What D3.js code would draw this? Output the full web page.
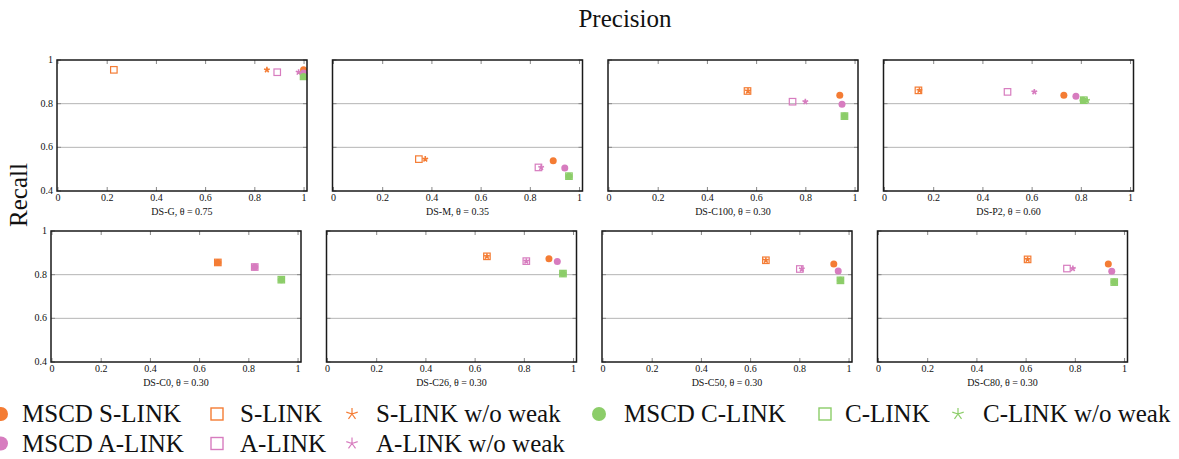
<!DOCTYPE html>
<html lang="en">
<head>
    <meta charset="UTF-8"/>
    <title>Precision / Recall</title>
    <script src="https://d3js.org/d3.v7.min.js"></script>
    <style>
        body { margin: 0; background: #fff; }
    </style>
</head>
<body>
<div id="chart"></div>

<script>

    // dataset subtitles, one panel each
    const datasets = ["DS-G, θ = 0.75", "DS-M, θ = 0.35", "DS-C100, θ = 0.30", "DS-P2, θ = 0.60",
        "DS-C0, θ = 0.30", "DS-C26, θ = 0.30", "DS-C50, θ = 0.30", "DS-C80, θ = 0.30"];

    const xTicks = [0, 0.2, 0.4, 0.6, 0.8, 1];
    const yTicks = [0.4, 0.6, 0.8, 1];
    const gridTicks = [0.6, 0.8];

    // [precision, recall] per dataset
    const mscdSLink = [[0.998, 0.955], [0.893, 0.538], [0.938, 0.838], [0.729, 0.838], [0.674, 0.856], [0.900, 0.873], [0.938, 0.849], [0.934, 0.849]];
    const sLink = [[0.227, 0.955], [0.347, 0.546], [0.563, 0.858], [0.138, 0.861], [0.674, 0.856], [0.648, 0.884], [0.662, 0.866], [0.606, 0.870]];
    const sLinkNoWeak = [[0.849, 0.955], [0.373, 0.546], [0.565, 0.858], [0.142, 0.861], [0.674, 0.856], [0.648, 0.884], [0.662, 0.866], [0.606, 0.870]];
    const mscdALink = [[0.998, 0.940], [0.940, 0.505], [0.947, 0.797], [0.778, 0.834], [0.824, 0.835], [0.934, 0.860], [0.956, 0.817], [0.948, 0.816]];
    const aLink = [[0.891, 0.944], [0.833, 0.508], [0.746, 0.809], [0.500, 0.854], [0.824, 0.835], [0.808, 0.862], [0.800, 0.826], [0.766, 0.828]];
    const aLinkNoWeak = [[0.978, 0.944], [0.844, 0.508], [0.798, 0.809], [0.609, 0.854], [0.824, 0.835], [0.808, 0.862], [0.808, 0.826], [0.790, 0.828]];
    const mscdCLink = [[0.998, 0.925], [0.957, 0.468], [0.957, 0.743], [0.807, 0.816], [0.932, 0.777], [0.957, 0.805], [0.965, 0.774], [0.958, 0.766]];
    const cLink = [[0.998, 0.925], [0.957, 0.468], [0.957, 0.743], [0.810, 0.816], [0.932, 0.777], [0.957, 0.805], [0.965, 0.774], [0.958, 0.766]];
    const cLinkNoWeak = [[0.998, 0.925], [0.957, 0.468], [0.957, 0.743], [0.823, 0.815], [0.932, 0.777], [0.957, 0.805], [0.965, 0.774], [0.958, 0.766]];

    const orange = "#f47c34", pink = "#d77cbf", green = "#8ccd69";

    const series = [
        {name: "S-LINK", data: sLink, mark: "square", color: orange},
        {name: "S-LINK w/o weak", data: sLinkNoWeak, mark: "star", color: orange},
        {name: "A-LINK", data: aLink, mark: "square", color: pink},
        {name: "A-LINK w/o weak", data: aLinkNoWeak, mark: "star", color: pink},
        {name: "C-LINK", data: cLink, mark: "square", color: green},
        {name: "C-LINK w/o weak", data: cLinkNoWeak, mark: "star", color: green},
        {name: "MSCD S-LINK", data: mscdSLink, mark: "circle", color: orange},
        {name: "MSCD A-LINK", data: mscdALink, mark: "circle", color: pink},
        {name: "MSCD C-LINK", data: mscdCLink, mark: "circle", color: green}
    ];

    const width = 1179, height = 459;
    const panelW = 250, panelH = 131;
    const serif = "Liberation Serif";

    const svg = d3.select("#chart")
        .append("svg")
        .attr("width", width)
        .attr("height", height);

    // every text node gets the serif face directly
    function label(parent, size) {
        return parent.append("text")
            .attr("font-family", serif)
            .style("font-family", serif)
            .style("font-size", size + "px")
            .attr("fill", "#111");
    }

    function drawMark(g, mark, color, x, y, size) {
        if (mark === "circle") {
            g.append("circle").attr("cx", x).attr("cy", y).attr("r", size * 0.5)
                .attr("fill", color);
        } else if (mark === "square") {
            g.append("rect").attr("x", x - size / 2).attr("y", y - size / 2)
                .attr("width", size).attr("height", size)
                .attr("fill", "none").attr("stroke", color).attr("stroke-width", size > 10 ? 1.4 : 1.2);
        } else {
            const p = d3.path();
            for (let k = 0; k < 5; k++) {
                const a = -Math.PI / 2 + k * 2 * Math.PI / 5;
                p.moveTo(x, y);
                p.lineTo(x + Math.cos(a) * size / 2, y + Math.sin(a) * size / 2);
            }
            g.append("path").attr("d", p.toString()).attr("fill", "none")
                .attr("stroke", color).attr("stroke-width", size > 10 ? 1.2 : 1.6);
        }
    }

    datasets.forEach((name, i) => {
        const row = Math.floor(i / 4), col = i % 4;
        const x0 = (row === 0 ? 57 : 51) + col * 275.5;
        const y0 = row === 0 ? 60 : 231;

        const g = svg.append("g").attr("transform", `translate(${x0}, ${y0})`);

        const x = d3.scaleLinear().domain([-0.004, 1.012]).range([0, panelW]);
        const y = d3.scaleLinear().domain([0.4, 1]).range([panelH, 0]);

        // grid
        g.selectAll(".grid").data(gridTicks).join("line")
            .attr("x1", 0).attr("x2", panelW)
            .attr("y1", d => y(d)).attr("y2", d => y(d))
            .attr("stroke", "#b5b5b5").attr("stroke-width", 1);

        // inward ticks on all four sides
        const tickLen = 4;
        xTicks.forEach(t => {
            g.append("line").attr("x1", x(t)).attr("x2", x(t)).attr("y1", panelH).attr("y2", panelH - tickLen)
                .attr("stroke", "#888");
            g.append("line").attr("x1", x(t)).attr("x2", x(t)).attr("y1", 0).attr("y2", tickLen)
                .attr("stroke", "#888");
            label(g, 10).attr("x", x(t)).attr("y", panelH + 10)
                .attr("text-anchor", "middle")
                .text(d3.format("~g")(t));
        });
        yTicks.forEach(t => {
            g.append("line").attr("x1", 0).attr("x2", tickLen).attr("y1", y(t)).attr("y2", y(t))
                .attr("stroke", "#888");
            g.append("line").attr("x1", panelW).attr("x2", panelW - tickLen).attr("y1", y(t)).attr("y2", y(t))
                .attr("stroke", "#888");
            if (col === 0) {
                label(g, 10).attr("x", -4).attr("y", y(t) + 3)
                    .attr("text-anchor", "end")
                    .text(d3.format("~g")(t));
            }
        });

        // subtitle
        label(g, 10)
            .attr("x", panelW / 2).attr("y", panelH + 24)
            .attr("text-anchor", "middle")
            .text(name);

        // marks
        const marks = g.append("g");
        series.forEach(s => {
            const d = s.data[i];
            drawMark(marks, s.mark, s.color, x(d[0]), y(d[1]), s.mark === "circle" ? 7 : (s.mark === "square" ? 6.5 : 6));
        });

        // frame
        g.append("rect").attr("width", panelW).attr("height", panelH)
            .attr("fill", "none").attr("stroke", "#1a1a1a").attr("stroke-width", 1.5);
    });

    // axis titles
    label(svg, 25)
        .attr("x", 625).attr("y", 27)
        .attr("text-anchor", "middle")
        .text("Precision");

    label(svg, 25)
        .attr("transform", `translate(27, 195) rotate(-90)`)
        .attr("text-anchor", "middle")
        .text("Recall");

    // legend
    const legendRows = [
        [{name: "MSCD S-LINK", mark: "circle", color: orange, mx: 1, tx: 22},
            {name: "S-LINK", mark: "square", color: orange, mx: 217, tx: 240},
            {name: "S-LINK w/o weak", mark: "star", color: orange, mx: 352, tx: 376},
            {name: "MSCD C-LINK", mark: "circle", color: green, mx: 599, tx: 624},
            {name: "C-LINK", mark: "square", color: green, mx: 825, tx: 845},
            {name: "C-LINK w/o weak", mark: "star", color: green, mx: 958, tx: 983}],
        [{name: "MSCD A-LINK", mark: "circle", color: pink, mx: 1, tx: 22},
            {name: "A-LINK", mark: "square", color: pink, mx: 217, tx: 240},
            {name: "A-LINK w/o weak", mark: "star", color: pink, mx: 352, tx: 376}]
    ];

    legendRows.forEach((items, r) => {
        const cy = 414 + r * 29.5;
        const lg = svg.append("g");
        items.forEach(it => {
            drawMark(lg, it.mark, it.color, it.mx, cy, it.mark === "circle" ? 14 : 12);
            label(lg, 25)
                .attr("x", it.tx).attr("y", cy + 8)
                .text(it.name);
        });
    });

</script>
</body>
</html>
